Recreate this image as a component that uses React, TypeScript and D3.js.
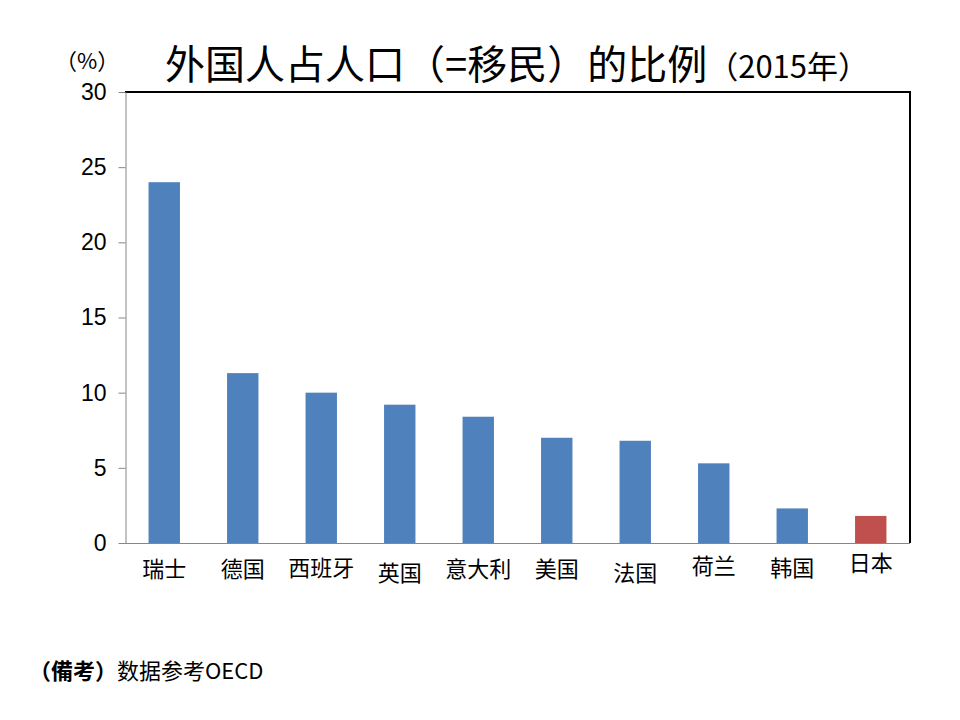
import { useEffect, useRef } from "react";
import * as d3 from "d3";

const countries = ["瑞士", "德国", "西班牙", "英国", "意大利", "美国", "法国", "荷兰", "韩国", "日本"];
const shares = [24.0, 11.3, 10.0, 9.2, 8.4, 7.0, 6.8, 5.3, 2.3, 1.8];
const yTicks = [0, 5, 10, 15, 20, 25, 30];
// labels in the original sit at slightly uneven heights
const labelShift = [0, 0, -1, 4, 0, 0, 4, -3, -1, -6];

const W = 960;
const H = 720;
const margin = { top: 92, right: 50, bottom: 177, left: 125 };
const cjk = "'Noto Sans CJK SC', 'Noto Sans CJK JP', sans-serif";
const num = "'Liberation Sans Narrow', 'Liberation Sans', Arial, sans-serif";

export default function App() {
  const ref = useRef<SVGSVGElement | null>(null);

  useEffect(() => {
    if (!ref.current) return;
    const svg = d3.select(ref.current);
    svg.selectAll("*").remove();

    const x0 = margin.left;
    const x1 = W - margin.right;
    const y0 = H - margin.bottom;
    const y1 = margin.top;

    const x = d3.scaleBand<string>().domain(countries).range([x0, x1]).paddingInner(0.6).paddingOuter(0.3);
    const y = d3.scaleLinear().domain([0, 30]).range([y0, y1]);

    svg.append("rect").attr("width", W).attr("height", H).attr("fill", "#fff");

    // bars
    svg
      .append("g")
      .selectAll("rect")
      .data(countries)
      .join("rect")
      .attr("x", (d) => x(d)!)
      .attr("y", (_, i) => y(shares[i]))
      .attr("width", x.bandwidth())
      .attr("height", (_, i) => y0 - y(shares[i]))
      .attr("fill", (d) => (d === "日本" ? "#c0504d" : "#4f81bd"));

    // frame: top and right are dark
    svg
      .append("path")
      .attr("d", `M${x0},${y1}H${x1}V${y0}`)
      .attr("fill", "none")
      .attr("stroke", "#000")
      .attr("stroke-width", 2);

    // bottom axis line
    svg
      .append("line")
      .attr("x1", x0)
      .attr("x2", x1)
      .attr("y1", y0 + 0.5)
      .attr("y2", y0 + 0.5)
      .attr("stroke", "#868686");

    // left axis
    const yAxis = svg
      .append("g")
      .attr("transform", `translate(${x0 + 0.5},0)`)
      .call(d3.axisLeft(y).tickValues(yTicks).tickSize(7).tickPadding(12).tickSizeOuter(0));
    yAxis.select(".domain").attr("stroke", "#868686");
    yAxis.selectAll(".tick line").attr("stroke", "#868686");
    yAxis
      .selectAll(".tick text")
      .attr("fill", "#000")
      .attr("font-family", num)
      .attr("font-size", 23);

    // category labels
    svg
      .append("g")
      .selectAll("text")
      .data(countries)
      .join("text")
      .attr("x", (d) => x(d)! + x.bandwidth() / 2)
      .attr("y", (_, i) => 577 + labelShift[i])
      .attr("text-anchor", "middle")
      .attr("font-family", cjk)
      .attr("font-size", 22)
      .attr("fill", "#000")
      .text((d) => d);

    // title
    const title = svg
      .append("text")
      .attr("x", 165)
      .attr("y", 79)
      .attr("font-family", cjk)
      .attr("fill", "#000");
    title.append("tspan").attr("font-size", 40).text("外国人占人口（=移民）的比例");
    title.append("tspan").attr("font-size", 31).attr("y", 78).text("（2015年）");

    svg
      .append("text")
      .attr("x", 55)
      .attr("y", 69)
      .attr("font-family", cjk)
      .attr("font-size", 22)
      .attr("fill", "#000")
      .text("（%）");

    // source note
    const note = svg
      .append("text")
      .attr("x", 29)
      .attr("y", 679)
      .attr("font-family", cjk)
      .attr("font-size", 22)
      .attr("fill", "#000");
    note.append("tspan").attr("font-weight", "bold").text("（備考）");
    note.append("tspan").text("数据参考OECD");
  }, []);

  return (
    <svg
      ref={ref}
      width={W}
      height={H}
      style={{ position: "absolute", left: 0, top: 0, display: "block" }}
    />
  );
}
